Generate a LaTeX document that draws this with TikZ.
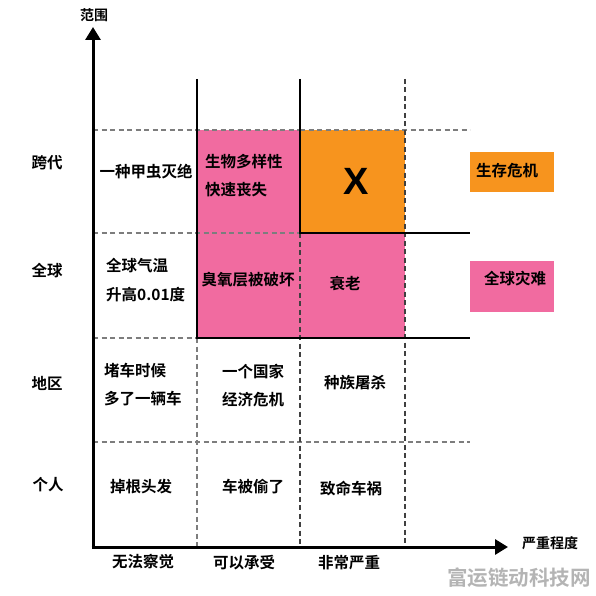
\documentclass[tikz,border=0pt]{standalone}
\usepackage{fontspec}
\setmainfont{Noto Sans CJK SC}[BoldFont={* Bold}]
\newfontfamily\cjkb{Noto Sans CJK SC Bold}
\usetikzlibrary{arrows.meta}
\definecolor{pinkc}{RGB}{241,107,160}
\definecolor{orangec}{RGB}{247,148,30}
\definecolor{dashg}{RGB}{125,125,125}
\definecolor{wmg}{RGB}{180,180,180}
\tikzset{
  txt/.style={font=\cjkb\fontsize{15.5}{18}\selectfont, text=black, inner sep=0pt},
  txtl/.style={txt, align=left},
  txtc/.style={txt, align=center},
  gdash/.style={draw=dashg, line width=1.3pt, dash pattern=on 5pt off 3.5pt},
  kdash/.style={draw=black!75, line width=1.3pt, dash pattern=on 5pt off 3.5pt},
  solidk/.style={draw=black, line width=1.5pt},
  axis/.style={draw=black, line width=3pt, -{Triangle[length=13pt,width=15pt]}},
}
\begin{document}
\begin{tikzpicture}[x=1pt,y=-1pt]
\useasboundingbox[fill=white] (0,0) rectangle (596,596);
% fills
\fill[pinkc] (197,130) rectangle (405,338);
\fill[orangec] (300,130) rectangle (405,233);
% horizontal dashed
\draw[gdash] (93,130) -- (300,130);
\draw[gdash] (300,130) -- (470,130);
\draw[gdash] (93,233) -- (300,233);
\draw[gdash] (93,338) -- (197,338);
\draw[gdash] (93,442) -- (470,442);
% vertical dashed
\draw[gdash] (197,338) -- (197,546);
\draw[kdash] (300,233) -- (300,546);
\draw[kdash] (405,79) -- (405,546);
% solid lines
\draw[solidk] (197,79) -- (197,338) -- (470,338);
\draw[solidk] (300,79) -- (300,233) -- (470,233);
% axes
\coordinate (O) at (93,547);
\coordinate (Ytop) at (93,27);
\coordinate (Xend) at (508,547);
\draw[axis] (O) -- (Ytop);
\draw[axis] ([xshift=-1.5pt]O) -- (Xend);
% axis labels
\node[txt, font=\cjkb\fontsize{14}{16}\selectfont] (ylab) at (94,15) {范围};
\node[txt, font=\cjkb\fontsize{14}{16}\selectfont] (xlab) at (550,543) {严重程度};
% row labels
\node[txt] (r1) at (47,163) {跨代};
\node[txt] (r2) at (47,271) {全球};
\node[txt] (r3) at (47,383) {地区};
\node[txt] (r4) at (48,485) {个人};
% column labels
\node[txt] (c1) at (143,562) {无法察觉};
\node[txt] (c2) at (244,563) {可以承受};
\node[txt] (c3) at (349,563) {非常严重};
% cells
\node[txt] (a11) at (146,172) {一种甲虫灭绝};
\node[txtl, anchor=west, font=\cjkb\fontsize{15.5}{28}\selectfont] (a12) at (205,176) {生物多样性\\快速丧失};
\node[txt, font=\fontspec{Liberation Sans}\bfseries\fontsize{38}{40}\selectfont] (a13) at (356,181) {X};
\node[txtl, anchor=west, font=\cjkb\fontsize{15.5}{29}\selectfont] (a21) at (106,280) {全球气温\\升高0.01度};
\node[txt] (a22) at (248,280) {臭氧层被破坏};
\node[txt] (a23) at (345,283) {衰老};
\node[txtl, anchor=west, font=\cjkb\fontsize{15.5}{28}\selectfont] (a31) at (104,385) {堵车时候\\多了一辆车};
\node[txtc, font=\cjkb\fontsize{15.5}{28}\selectfont] (a32) at (253,386) {一个国家\\经济危机};
\node[txt] (a33) at (355,383) {种族屠杀};
\node[txt] (a41) at (141,487) {掉根头发};
\node[txt] (a42) at (253,487) {车被偷了};
\node[txt] (a43) at (351,488) {致命车祸};
% legend
\node[fill=orangec, minimum width=84pt, minimum height=40pt, inner sep=0pt] (lg1) at (512,172) {};
\node[txt] (lg1t) at (507,171) {生存危机};
\node[fill=pinkc, minimum width=84pt, minimum height=51pt, inner sep=0pt] (lg2) at (512,286.5) {};
\node[txt] (lg2t) at (515,279) {全球灾难};
% watermark
\node[txt, text=wmg, font=\cjkb\fontsize{20.5}{22}\selectfont] (wm) at (519,578) {富运链动科技网};
\end{tikzpicture}
\end{document}
